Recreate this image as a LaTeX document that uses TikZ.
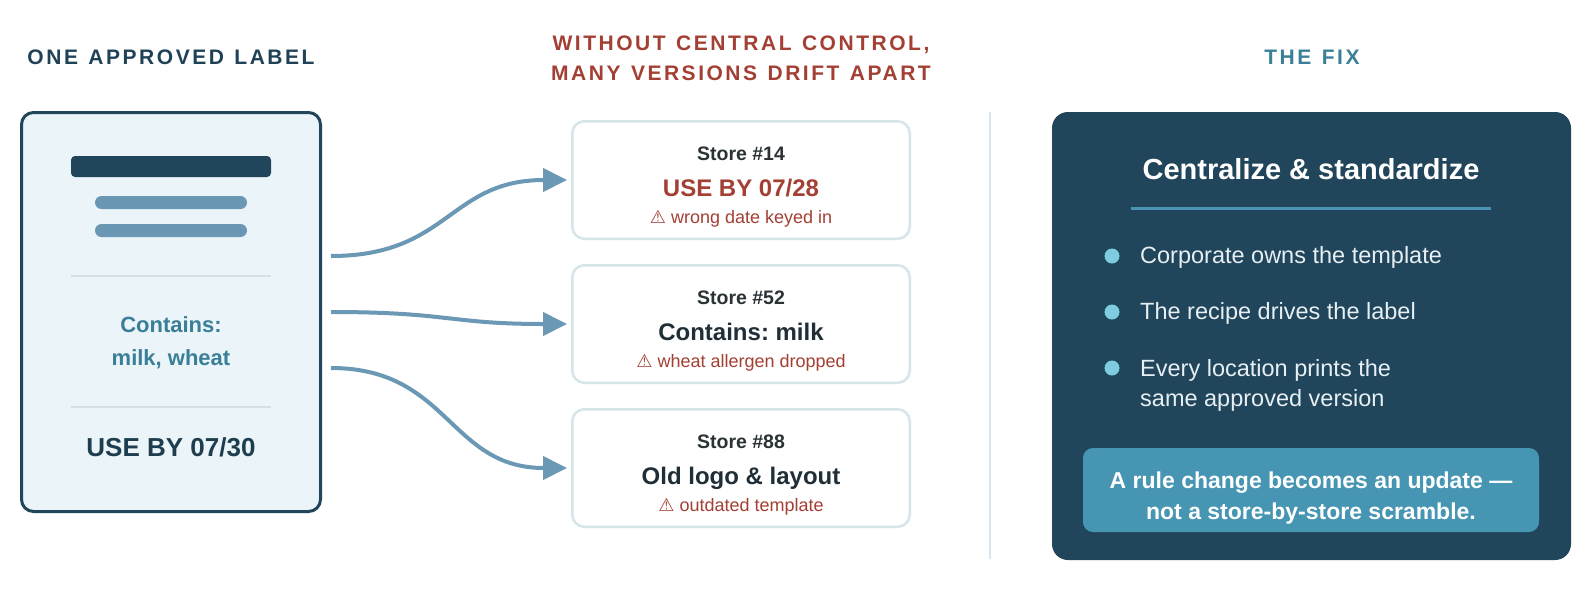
\documentclass[tikz,border=0pt]{standalone}
\usepackage{fontspec}
\setmainfont{Liberation Sans}
\newfontfamily\hfont[LetterSpace=12,WordSpace=1.25]{Liberation Sans}
\newfontfamily\warnfont{DejaVu Sans}
\usetikzlibrary{arrows.meta}
\frenchspacing
\definecolor{navy}{HTML}{21455A}
\definecolor{headnavy}{HTML}{1F4257}
\definecolor{cardfill}{HTML}{EBF5F9}
\definecolor{barblue}{HTML}{6A97B4}
\definecolor{divgray}{HTML}{D4E0E5}
\definecolor{tealtxt}{HTML}{3A7F97}
\definecolor{usebydark}{HTML}{1E3D4F}
\definecolor{redtxt}{HTML}{A33F33}
\definecolor{mborder}{HTML}{D5E5E8}
\definecolor{storetxt}{HTML}{2B3236}
\definecolor{maintxt}{HTML}{1F2E37}
\definecolor{arrowc}{HTML}{6A98B5}
\definecolor{sepc}{HTML}{D7E5ED}
\definecolor{ulinec}{HTML}{4A95B6}
\definecolor{dotc}{HTML}{7ECCE0}
\definecolor{bullettxt}{HTML}{E6EFF3}
\definecolor{boxc}{HTML}{4696B3}
\newcommand{\fs}[1]{\fontsize{#1pt}{#1pt}\selectfont}
\tikzset{
  txt/.style={anchor=base, inner sep=0pt, outer sep=0pt},
  heading/.style={txt, font=\hfont\bfseries\fs{21}},
  lcard/.style={draw=navy, line width=3pt, fill=cardfill, rounded corners=12pt,
    minimum width=299pt, minimum height=399pt, inner sep=0pt},
  mcard/.style={draw=mborder, line width=2.5pt, fill=white, rounded corners=12pt,
    minimum width=337.5pt, minimum height=117.5pt, inner sep=0pt},
  storelbl/.style={txt, font=\bfseries\fs{19.5}, text=storetxt},
  mainlbl/.style={txt, font=\bfseries\fs{24}, text=maintxt},
  warnlbl/.style={txt, font=\fs{18}, text=redtxt},
  conn/.style={draw=arrowc, line width=4pt, -{Triangle[length=24pt,width=23pt]}},
  divider/.style={draw=divgray, line width=1.5pt},
  panel/.style={fill=navy, rounded corners=16pt, minimum width=519pt,
    minimum height=448pt, inner sep=0pt},
  bdot/.style={circle, fill=dotc, minimum size=15pt, inner sep=0pt},
  btxt/.style={anchor=base west, inner sep=0pt, font=\fs{23.5}, text=bullettxt},
  notebox/.style={fill=boxc, rounded corners=10pt, minimum width=456pt,
    minimum height=84pt, inner sep=0pt},
  notetxt/.style={txt, font=\bfseries\fs{23}, text=white}
}
\begin{document}
\begin{tikzpicture}[x=1pt,y=-1pt]
\useasboundingbox (0,0) rectangle (1590,590);
\fill[white] (0,0) rectangle (1590,590);

% headings
\node[heading, text=headnavy] (h1) at (171,64) {ONE APPROVED LABEL};
\node[heading, text=redtxt] (h2a) at (741,50) {WITHOUT CENTRAL CONTROL,};
\node[heading, text=redtxt] (h2b) at (741,80) {MANY VERSIONS DRIFT APART};
\node[heading, text=tealtxt] (h3) at (1312,64) {THE FIX};

% left approved label
\node[lcard] (lab) at (171,312) {};
\fill[navy, rounded corners=4pt] (71,156) rectangle (271,177);
\fill[barblue, rounded corners=6.5pt] (95,196) rectangle (247,209);
\fill[barblue, rounded corners=6.5pt] (95,224) rectangle (247,237);
\draw[divider] (71,276) -- (271,276);
\node[txt, font=\bfseries\fs{22}, text=tealtxt] (c1) at (171,332) {Contains:};
\node[txt, font=\bfseries\fs{22}, text=tealtxt] (c2) at (171,365) {milk, wheat};
\draw[divider] (71,407) -- (271,407);
\node[txt, font=\bfseries\fs{26}, text=usebydark] (ub) at (171,456) {USE BY 07/30};

% middle store cards
\node[mcard] (s14) at (741,180) {};
\node[storelbl] (s14a) at (741,160) {Store \#14};
\node[txt, font=\bfseries\fs{24}, text=redtxt] (s14b) at (741,196) {USE BY 07/28};
\node[warnlbl] (s14c) at (741,223) {{\warnfont ⚠} wrong date keyed in};

\node[mcard] (s52) at (741,324) {};
\node[storelbl] (s52a) at (741,304) {Store \#52};
\node[mainlbl] (s52b) at (741,340) {Contains: milk};
\node[warnlbl] (s52c) at (741,367) {{\warnfont ⚠} wheat allergen dropped};

\node[mcard] (s88) at (741,468) {};
\node[storelbl] (s88a) at (741,448) {Store \#88};
\node[mainlbl] (s88b) at (741,484) {Old logo \& layout};
\node[warnlbl] (s88c) at (741,511) {{\warnfont ⚠} outdated template};

% connectors
\coordinate (o1) at (331,256);
\coordinate (o2) at (331,312);
\coordinate (o3) at (331,368);
\draw[conn] (o1) .. controls (449,256) and (449,180) .. ([xshift=-4pt]s14.west);
\draw[conn] (o2) .. controls (449,312) and (449,324) .. ([xshift=-4pt]s52.west);
\draw[conn] (o3) .. controls (449,368) and (449,468) .. ([xshift=-4pt]s88.west);

% separator
\draw[sepc, line width=2pt] (990,112) -- (990,559);

% right panel
\node[panel] (fix) at (1311.5,336) {};
\node[txt, font=\bfseries\fs{29}, text=white] (ttl) at (1311,179) {Centralize \& standardize};
\draw[ulinec, line width=3pt] (1131,208) -- (1491,208);
\node[bdot] (d1) at (1112,256) {};
\node[bdot] (d2) at (1112,312) {};
\node[bdot] (d3) at (1112,368) {};
\node[btxt] (b1) at (1140,263) {Corporate owns the template};
\node[btxt] (b2) at (1140,319) {The recipe drives the label};
\node[btxt] (b3) at (1140,376) {Every location prints the};
\node[btxt] (b3b) at (1140,406) {same approved version};
\node[notebox] (note) at (1311,490) {};
\node[notetxt] (n1) at (1311,488) {A rule change becomes an update —};
\node[notetxt] (n2) at (1311,519) {not a store-by-store scramble.};
\end{tikzpicture}
\end{document}
